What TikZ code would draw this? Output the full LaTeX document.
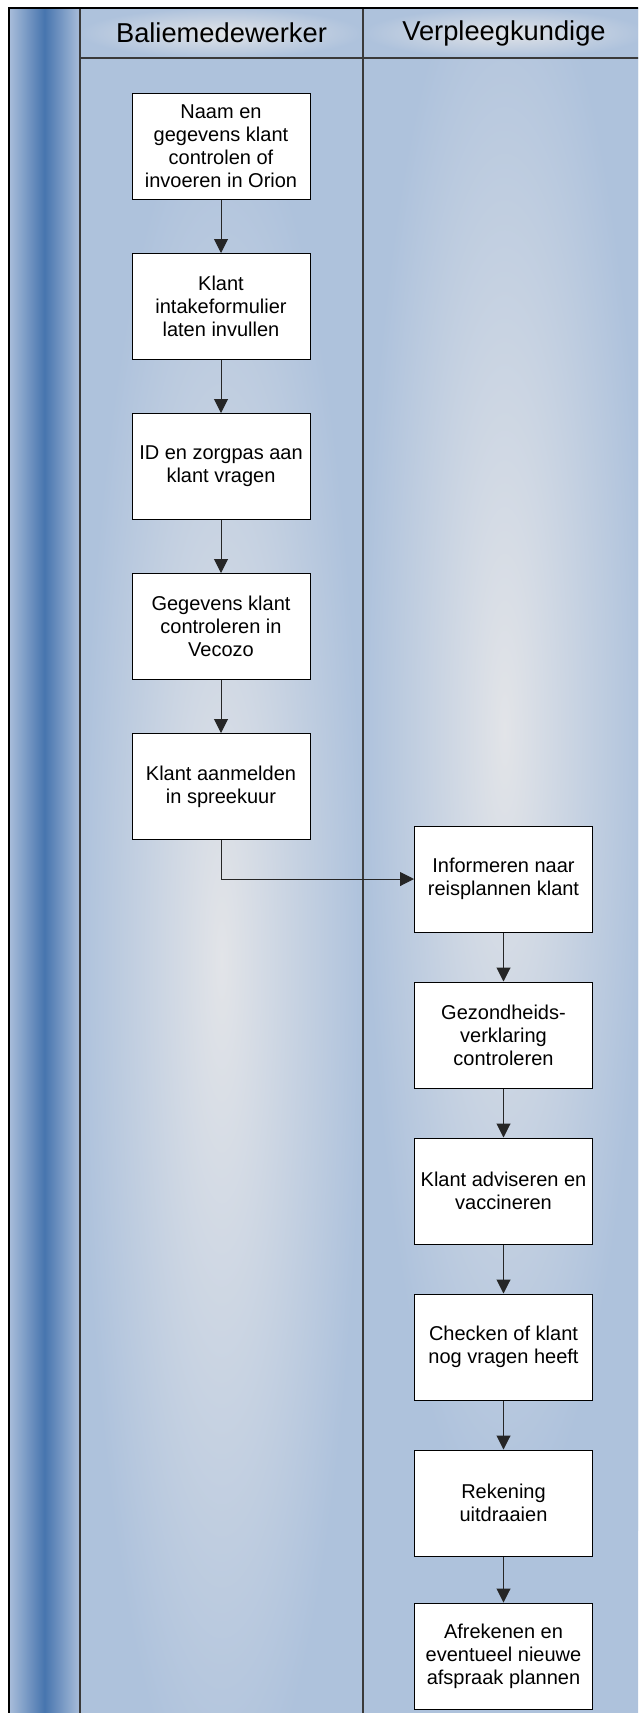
\documentclass[tikz,border=0pt]{standalone}
\usepackage{fontspec}
\setmainfont{Liberation Sans}
\usepackage{xcolor}
\usepackage{tikz}
\usetikzlibrary{arrows.meta,positioning}
\definecolor{laneBase}{HTML}{AEC2DC}
\definecolor{laneGlow}{HTML}{E2E4E8}
\definecolor{stripDark}{HTML}{4775AE}
\definecolor{stripEdge}{HTML}{A9BDDA}
\definecolor{laneLine}{HTML}{3A3A3A}
\tikzset{
  stap/.style={rectangle, draw=black, line width=1pt, fill=white, align=center, minimum width=178pt, minimum height=106pt, inner sep=2pt, font=\fontsize{20}{23}\selectfont},
  kop/.style={font=\fontsize{27.3}{31}\selectfont, anchor=center},
  lane/.style={inner color=laneGlow, outer color=laneBase},
  pijl/.style={-{Triangle[length=14pt,width=14pt]}, line width=1pt, draw=black!85}
}
\begin{document}
\begin{tikzpicture}[x=1pt, y=-1pt, node distance=53pt]
\useasboundingbox (0,0) rectangle (638,1713);
\fill[white] (0,0) rectangle (638,1713);
\clip (0,0) rectangle (638,1713);
% swimlanes
\shade[left color=stripEdge, right color=stripEdge, middle color=stripDark] (9,8) rectangle (80,1725);
\fill[laneBase] (80,8) rectangle (646,1725);
\shade[lane] (80,8) rectangle (363,58);
\shade[lane] (363,8) rectangle (646,58);
\begin{scope}
  \clip (80,58) rectangle (363,1725);
  \shade[lane] (80,90) rectangle (363,1830);
\end{scope}
\begin{scope}
  \clip (363,58) rectangle (646,1725);
  \shade[lane] (363,-70) rectangle (646,1530);
\end{scope}
\draw[laneLine, line width=1.5pt] (80,8) -- (80,1725);
\draw[laneLine, line width=1.5pt] (363,8) -- (363,1725);
\draw[laneLine, line width=1.5pt] (80,58) -- (646,58);
\draw[black, line width=1.5pt] (9,8) rectangle (646,1725);
\node[kop] (balie) at (221.5,33) {Baliemedewerker};
\node[kop] (verpleeg) at (504,33) {Verpleegkundige};
% baliemedewerker
\node[stap] (naam) at (221,146.5) {Naam en\\gegevens klant\\controlen of\\invoeren in Orion};
\node[stap, below=of naam] (intake) {Klant\\intakeformulier\\laten invullen};
\node[stap, below=of intake] (idpas) {ID en zorgpas aan\\klant vragen};
\node[stap, below=of idpas] (vecozo) {Gegevens klant\\controleren in\\Vecozo};
\node[stap, below=of vecozo] (aanmelden) {Klant aanmelden\\in spreekuur};
% verpleegkundige
\node[stap] (informeren) at (503.5,879) {Informeren naar\\reisplannen klant};
\node[stap, below=49pt of informeren] (gezond) {Gezondheids-\\verklaring\\controleren};
\node[stap, below=49pt of gezond] (advies) {Klant adviseren en\\vaccineren};
\node[stap, below=49pt of advies] (vragen) {Checken of klant\\nog vragen heeft};
\node[stap, below=49pt of vragen] (rekening) {Rekening\\uitdraaien};
\node[stap, below=46pt of rekening] (afrekenen) {Afrekenen en\\eventueel nieuwe\\afspraak plannen};
\draw[pijl] (naam) -- (intake);
\draw[pijl] (intake) -- (idpas);
\draw[pijl] (idpas) -- (vecozo);
\draw[pijl] (vecozo) -- (aanmelden);
\draw[pijl] (aanmelden.south) |- (informeren.west);
\draw[pijl] (informeren) -- (gezond);
\draw[pijl] (gezond) -- (advies);
\draw[pijl] (advies) -- (vragen);
\draw[pijl] (vragen) -- (rekening);
\draw[pijl] (rekening) -- (afrekenen);
\end{tikzpicture}
\end{document}
